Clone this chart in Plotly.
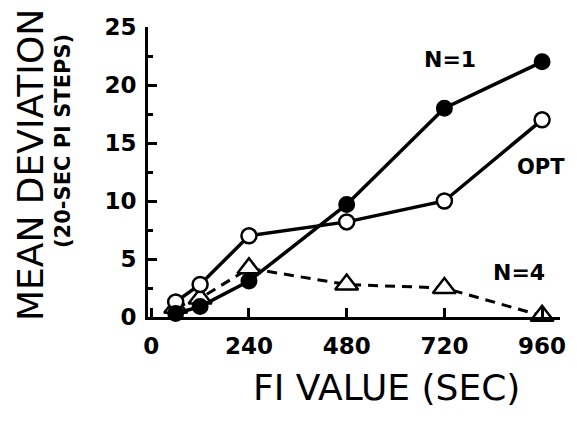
import plotly.graph_objects as go

fi_values = [60, 120, 240, 480, 720, 960]
n1_values = [0.3, 0.9, 3.1, 9.7, 18.0, 22.0]
opt_values = [1.3, 2.8, 7.0, 8.2, 10.0, 17.0]
n4_values = [0.8, 1.6, 4.2, 2.8, 2.5, 0.1]

x_ticks = [0, 240, 480, 720, 960]
y_ticks = [0, 5, 10, 15, 20, 25]
y_minor = [2.5, 7.5, 12.5, 17.5, 22.5]

FONT = "DejaVu Sans"

fig = go.Figure()
fig.add_trace(go.Scatter(
    x=fi_values, y=n4_values, mode="lines+markers",
    line=dict(color="black", width=3, dash="10px,7px"),
    marker=dict(symbol="triangle-up", size=20, color="white",
                line=dict(color="black", width=2.5)),
    cliponaxis=False, showlegend=False))
fig.add_trace(go.Scatter(
    x=fi_values, y=opt_values, mode="lines+markers",
    line=dict(color="black", width=3.5),
    marker=dict(symbol="circle", size=15, color="white",
                line=dict(color="black", width=2.5)),
    cliponaxis=False, showlegend=False))
fig.add_trace(go.Scatter(
    x=fi_values, y=n1_values, mode="lines+markers",
    line=dict(color="black", width=3.5),
    marker=dict(symbol="circle", size=15, color="black",
                line=dict(color="black", width=2)),
    cliponaxis=False, showlegend=False))

fig.update_layout(
    width=577, height=421,
    margin=dict(l=148, r=17, t=27, b=104),
    paper_bgcolor="white", plot_bgcolor="white",
    font=dict(family=FONT, color="black"),
)
fig.update_xaxes(
    range=[-8, 1004], tickvals=x_ticks, ticktext=[str(v) for v in x_ticks],
    showgrid=False, zeroline=False, showline=True, linecolor="black", linewidth=3,
    ticks="inside", ticklen=9, tickwidth=3, tickcolor="black",
    tickfont=dict(family=FONT, size=23, color="black", weight="bold"),
    ticklabelstandoff=6,
)
fig.update_yaxes(
    range=[0, 25], tickvals=y_ticks, ticktext=[str(v) for v in y_ticks],
    showgrid=False, zeroline=False, showline=True, linecolor="black", linewidth=3,
    ticks="inside", ticklen=9, tickwidth=3, tickcolor="black",
    minor=dict(tickvals=y_minor, ticks="inside", ticklen=5,
               tickwidth=3, tickcolor="black"),
    tickfont=dict(family=FONT, size=23, color="black", weight="bold"),
    ticklabelstandoff=4,
)

ann = [
    dict(text="MEAN DEVIATION", x=30, y=165, size=36, weight="normal", angle=-90),
    dict(text="(20-SEC PI STEPS)", x=63, y=141, size=21, weight="bold", angle=-90),
    dict(text="FI VALUE (SEC)", x=386, y=387, size=36, weight="normal", angle=0),
    dict(text="N=1", x=450, y=59, size=22, weight="bold", angle=0),
    dict(text="OPT", x=541, y=167, size=21, weight="bold", angle=0),
    dict(text="N=4", x=519, y=272, size=22, weight="bold", angle=0),
]
for a in ann:
    fig.add_annotation(
        text=a["text"], xref="paper", yref="paper",
        x=(a["x"] - 148) / (577 - 148 - 17), y=(421 - 104 - a["y"]) / (421 - 27 - 104),
        xanchor="center", yanchor="middle", showarrow=False, textangle=a["angle"],
        font=dict(family=FONT, size=a["size"], color="black", weight=a["weight"]),
    )

fig.write_html("out.html")
